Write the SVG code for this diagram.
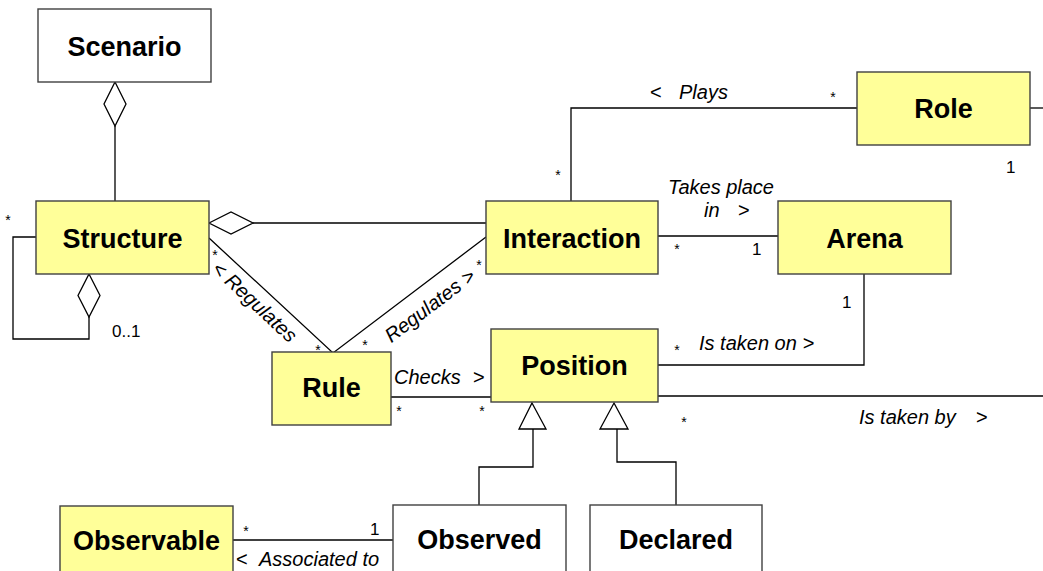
<svg xmlns="http://www.w3.org/2000/svg" width="1043" height="571" viewBox="0 0 1043 571">
<style>
.box{fill:#FFFF99;stroke:#404040;stroke-width:1.4}
.wbox{fill:#FFFFFF;stroke:#404040;stroke-width:1.4}
.name{font-family:"Liberation Sans",Arial,sans-serif;font-weight:bold;font-size:27px;text-anchor:middle;fill:#000}
.lbl{font-family:"Liberation Sans",Arial,sans-serif;font-style:italic;font-size:20px;fill:#000}
.sym{font-family:"Liberation Sans",Arial,sans-serif;font-size:20px;fill:#000}
.m{font-family:"Liberation Sans",Arial,sans-serif;font-size:17px;fill:#000}
.st{font-family:"Liberation Sans",Arial,sans-serif;font-size:14px;fill:#000;text-anchor:middle}
.ln{fill:none;stroke:#000;stroke-width:1.3}
.dia{fill:#FFFFFF;stroke:#000;stroke-width:1.3}
</style>
<rect width="1043" height="571" fill="#FFFFFF"/>
<g id="connectors">
  <path class="ln" d="M115,126 V201"/>
  <polygon class="dia" points="115,82 126,104 115,126 104,104"/>
  <path class="ln" d="M36,237 H13 V339 H89 V317"/>
  <polygon class="dia" points="89,274 100,295.5 89,317 78,295.5"/>
  <path class="ln" d="M253,223 H486"/>
  <polygon class="dia" points="209,223 231,212 253,223 231,234"/>
  <path class="ln" d="M209,238 L333,353 L486,237"/>
  <path class="ln" d="M571,201 V108 H857"/>
  <path class="ln" d="M1030,108 H1043"/>
  <path class="ln" d="M658,236 H778"/>
  <path class="ln" d="M864,274 V365 H658"/>
  <path class="ln" d="M658,396 H1043"/>
  <path class="ln" d="M387,397 H494"/>
  <path class="ln" d="M533,429 V467 H479 V505"/>
  <polygon class="dia" points="532,403 546,429 519,429"/>
  <path class="ln" d="M617,429 V462 H676 V505"/>
  <polygon class="dia" points="614,403 628,429 600,429"/>
  <path class="ln" d="M233,540 H393"/>
</g>
<g id="labels">
  <text class="st" x="8" y="225">*</text>
  <text class="m" x="112" y="337">0..1</text>
  <text class="st" x="215" y="260">*</text>
  <text class="st" x="318" y="355">*</text>
  <text class="st" x="365" y="350">*</text>
  <text class="st" x="479" y="270">*</text>
  <text class="lbl" text-anchor="middle" transform="translate(250,307) rotate(43)">&lt; Regulates</text>
  <text class="lbl" text-anchor="middle" transform="translate(434,311) rotate(-37)">Regulates &gt;</text>
  <text class="sym" x="650" y="99">&lt;</text>
  <text class="lbl" x="679" y="99">Plays</text>
  <text class="st" x="833" y="102">*</text>
  <text class="st" x="558" y="180">*</text>
  <text class="m" x="1006" y="173">1</text>
  <text class="lbl" x="668" y="194">Takes place</text>
  <text class="lbl" x="704" y="217">in</text>
  <text class="sym" x="738" y="217">&gt;</text>
  <text class="st" x="677" y="254">*</text>
  <text class="m" x="752" y="255">1</text>
  <text class="m" x="842" y="308">1</text>
  <text class="st" x="677" y="355">*</text>
  <text class="lbl" x="699" y="350">Is taken on &gt;</text>
  <text class="sym" x="394" y="384" font-style="italic">Checks</text>
  <text class="sym" x="473" y="384">&gt;</text>
  <text class="st" x="399" y="416">*</text>
  <text class="st" x="482" y="416">*</text>
  <text class="st" x="684" y="427">*</text>
  <text class="lbl" x="859" y="424">Is taken by</text>
  <text class="sym" x="976" y="424">&gt;</text>
  <text class="st" x="246" y="536">*</text>
  <text class="m" x="370" y="535">1</text>
  <text class="sym" x="236" y="566">&lt;</text>
  <text class="lbl" x="259" y="566">Associated to</text>
</g>
<g id="node-scenario">
  <rect class="wbox" x="38" y="9" width="173" height="73" stroke="#000"/>
  <text class="name" x="124.5" y="56">Scenario</text>
</g>
<g id="node-structure">
  <rect class="box" x="36" y="201" width="173" height="73"/>
  <text class="name" x="122.5" y="248">Structure</text>
</g>
<g id="node-interaction">
  <rect class="box" x="486" y="201" width="172" height="73"/>
  <text class="name" x="572" y="248">Interaction</text>
</g>
<g id="node-role">
  <rect class="box" x="857" y="72" width="173" height="73"/>
  <text class="name" x="943.5" y="118">Role</text>
</g>
<g id="node-arena">
  <rect class="box" x="778" y="201" width="173" height="73"/>
  <text class="name" x="864.5" y="248">Arena</text>
</g>
<g id="node-position">
  <rect class="box" x="491" y="329" width="167" height="73"/>
  <text class="name" x="574.5" y="375">Position</text>
</g>
<g id="node-rule">
  <rect class="box" x="272" y="352" width="119" height="73"/>
  <text class="name" x="331.5" y="397">Rule</text>
</g>
<g id="node-observable">
  <rect class="box" x="60" y="506" width="173" height="80"/>
  <text class="name" x="146.5" y="550">Observable</text>
</g>
<g id="node-observed">
  <rect class="wbox" x="393" y="505" width="173" height="80"/>
  <text class="name" x="479.5" y="549">Observed</text>
</g>
<g id="node-declared">
  <rect class="wbox" x="590" y="505" width="172" height="80"/>
  <text class="name" x="676" y="549">Declared</text>
</g>
</svg>
